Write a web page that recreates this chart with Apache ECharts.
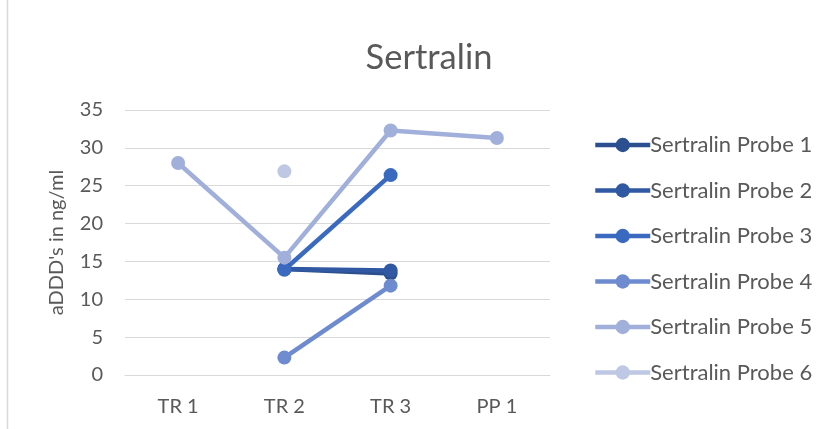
<!DOCTYPE html>
<html><head><meta charset="utf-8">
<script src="https://cdn.jsdelivr.net/npm/echarts@6/dist/echarts.min.js"></script>
<style>html,body{margin:0;padding:0;background:#fff}#c{width:831px;height:429px}</style>
</head><body><div id="c"></div>
<script>
const categories = ['TR 1', 'TR 2', 'TR 3', 'PP 1'];
const seriesNames = ['Sertralin Probe 1','Sertralin Probe 2','Sertralin Probe 3','Sertralin Probe 4','Sertralin Probe 5','Sertralin Probe 6'];
const probe1 = [null, 14.0, 13.4, null];
const probe2 = [null, 14.0, 13.8, null];
const probe3 = [null, 13.9, 26.4, null];
const probe4 = [null, 2.3, 11.8, null];
const probe5 = [28.0, 15.5, 32.3, 31.3];
const probe6 = [null, 26.9, null, null];
const yTicks = [0, 5, 10, 15, 20, 25, 30, 35];
const colors = ['#2C4F8F','#3159A3','#3A69C0','#6E8BCF','#A1AFDB','#BEC8E5'];
const allData = [probe1, probe2, probe3, probe4, probe5, probe6];

const chart = echarts.init(document.getElementById('c'), null, {renderer:'canvas'});
const font = 'Lato, "Open Sans", sans-serif';
chart.setOption({
  animation: false,
  backgroundColor: '#fff',
  textStyle: {fontFamily: font},
  title: {text: 'Sertralin', left: 424, top: 35, textAlign: 'center',
    textStyle: {fontFamily: font, fontSize: 34.5, fontWeight: 'normal', color: '#595959'}},
  graphic: [{type:'rect', shape:{x:7.5, y:-5, width:840, height:440}, style:{fill:'none', stroke:'#d9d9d9', lineWidth:1.5}, silent:true}],
  legend: {
    orient: 'vertical', left: 588, top: 129, height: 300, itemGap: 23.5, itemWidth: 55, itemHeight: 18,
    data: seriesNames,
    lineStyle: {width: 4.5},
    textStyle: {fontFamily: font, fontSize: 22, color: '#595959', padding:[0,0,0,-5]}
  },
  grid: {left: 125, right: 281, top: 110, bottom: 54},
  xAxis: {
    type: 'category', data: categories, boundaryGap: true,
    axisLine: {lineStyle: {color: '#d9d9d9', width: 1}},
    axisTick: {show: false},
    axisLabel: {color: '#595959', fontSize: 20, fontFamily: font, margin: 22}
  },
  yAxis: {
    type: 'value', min: yTicks[0], max: yTicks[yTicks.length-1], interval: 5,
    name: "aDDD's in ng/ml", nameLocation: 'middle', nameGap: 58, nameRotate: 90,
    nameTextStyle: {color: '#595959', fontSize: 20, fontFamily: font},
    axisLine: {show: false}, axisTick: {show: false},
    axisLabel: {color: '#595959', fontSize: 20, fontFamily: font, margin: 22},
    splitLine: {lineStyle: {color: '#d9d9d9', width: 1}}
  },
  series: seriesNames.map((n, i) => ({
    name: n, type: 'line', data: allData[i], connectNulls: false,
    symbol: 'circle', symbolSize: 14, showSymbol: true,
    lineStyle: {color: colors[i], width: 4.5},
    itemStyle: {color: colors[i]}
  }))
});
</script></body></html>
